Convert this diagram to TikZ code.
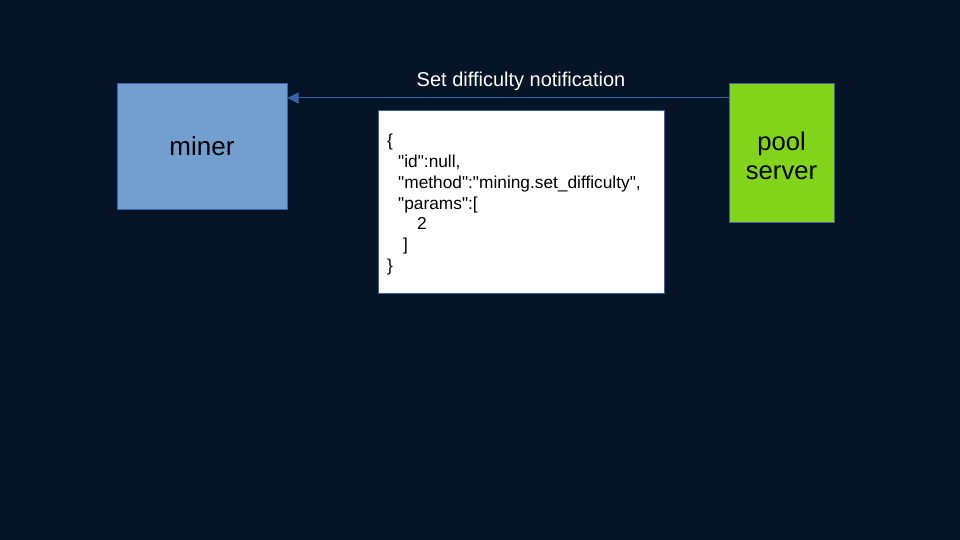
\documentclass[tikz,border=0pt]{standalone}
\usepackage{fontspec}
\setmainfont{Liberation Sans}
\newfontfamily\codefont{Liberation Sans}[Ligatures=TeXOff]
\usetikzlibrary{arrows.meta}
\definecolor{bg}{HTML}{061427}
\definecolor{minerfill}{HTML}{729FCF}
\definecolor{edgeblue}{HTML}{3465A4}
\definecolor{poolfill}{HTML}{81D41A}
\tikzset{
  box/.style={draw=edgeblue, line width=1pt, inner sep=0pt, align=center},
  arr/.style={draw=edgeblue, line width=1pt, -{Triangle[length=11pt,width=11pt]}},
}
\begin{document}
\begin{tikzpicture}[x=1pt,y=-1pt]
\fill[bg] (0,0) rectangle (960,540);
\useasboundingbox (0,0) rectangle (960,540);
\node[box, fill=minerfill, minimum width=170pt, minimum height=125pt,
      font=\fontsize{26}{30}\selectfont] (miner) at (202,146.5) {miner};
\node[box, fill=poolfill, minimum width=105pt, minimum height=138pt] (pool) at (781.5,153) {};
\node[align=center, inner sep=0pt, font=\fontsize{25.6}{29.4}\selectfont] (pooltext)
  at ([yshift=-3pt]pool.center) {pool\\server};
\node[box, fill=white, minimum width=286pt, minimum height=182pt] (json) at (521,202) {};
\node[anchor=north west, inner sep=0pt, align=left,
      font=\codefont\fontsize{17.3}{20.8}\selectfont] (code) at (387,134)
  {\{\\
   \hspace*{11pt}"id":null,\\
   \hspace*{11pt}"method":"mining.set\_difficulty",\\
   \hspace*{11pt}"params":[\\
   \hspace*{30pt}2\\
   \hspace*{16pt}]\\
   \}};
\coordinate (ay) at (0,98);
\draw[arr] (pool.west |- ay) -- (miner.east |- ay);
\node[text=white, font=\fontsize{20}{24}\selectfont, anchor=base] (lbl) at (521,86.5)
  {Set difficulty notification};
\end{tikzpicture}
\end{document}
